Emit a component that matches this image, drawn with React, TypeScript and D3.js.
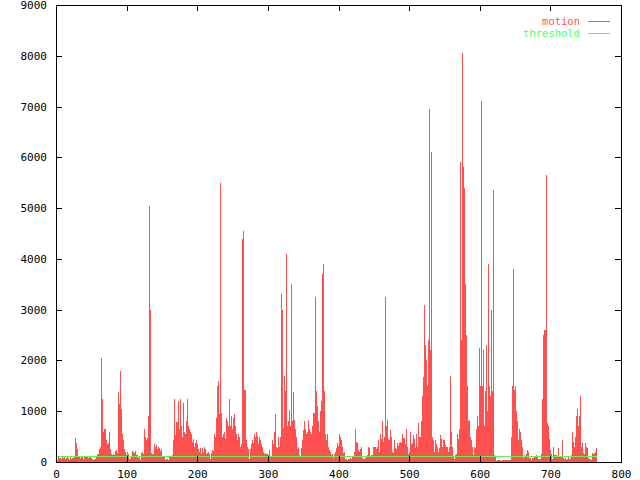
import * as d3 from 'd3';
import React, { useEffect, useRef } from 'react';

// motion value per frame
const motion = [
  60, 80, 40, 90, 50, 70, 30, 80, 60, 90,
  50, 70, 90, 40, 60, 80, 100, 50, 70, 40,
  60, 90, 50, 70, 40, 80, 100, 470, 300, 380,
  250, 120, 90, 100, 80, 60, 90, 110, 70, 50,
  80, 100, 120, 90, 60, 110, 80, 100, 70, 90,
  70, 50, 30, 40, 60, 30, 50, 80, 120, 150,
  150, 260, 240, 300, 420, 2050, 1250, 600, 430, 650,
  650, 430, 400, 350, 370, 300, 600, 250, 130, 150,
  130, 110, 160, 140, 220, 200, 230, 180, 860, 1380,
  1150, 1300, 1800, 1050, 560, 430, 300, 250, 200, 150,
  130, 200, 150, 120, 50, 70, 40, 110, 220, 150,
  200, 180, 220, 160, 130, 140, 120, 70, 110, 30,
  30, 180, 170, 190, 150, 160, 650, 500, 430, 480,
  300, 900, 1050, 5050, 3000, 180, 150, 140, 160, 320,
  350, 300, 280, 340, 260, 300, 250, 280, 220, 260,
  250, 120, 90, 100, 80, 40, 60, 30, 50, 40,
  80, 100, 90, 110, 100, 130, 250, 430, 1250, 540,
  790, 540, 790, 1200, 700, 650, 1250, 700, 550, 500,
  900, 1170, 600, 430, 560, 800, 1250, 700, 550, 650,
  600, 500, 560, 400, 350, 450, 300, 380, 320, 440,
  350, 300, 250, 200, 280, 220, 160, 150, 270, 200,
  300, 250, 130, 150, 120, 180, 200, 150, 50, 60,
  180, 240, 150, 220, 450, 560, 500, 860, 1490, 950,
  1600, 950, 900, 5500, 960, 900, 500, 560, 500, 600,
  450, 500, 860, 800, 700, 1250, 960, 700, 800, 900,
  650, 560, 860, 940, 700, 560, 500, 430, 560, 450,
  500, 300, 250, 350, 4400, 4550, 1500, 1420, 1420, 900,
  430, 300, 200, 250, 50, 60, 250, 350, 430, 300,
  380, 560, 450, 500, 600, 520, 300, 350, 500, 400,
  430, 350, 300, 250, 200, 160, 180, 130, 160, 140,
  150, 130, 240, 200, 120, 120, 110, 430, 350, 300,
  600, 940, 300, 250, 280, 500, 300, 300, 500, 3300,
  3000, 1000, 660, 1100, 1700, 1400, 900, 4100, 700, 800,
  650, 1020, 700, 900, 3500, 800, 1380, 830, 800, 650,
  430, 500, 250, 300, 250, 130, 90, 270, 250, 430,
  630, 500, 800, 650, 560, 430, 600, 830, 700, 650,
  430, 600, 550, 700, 960, 900, 960, 800, 3250, 1400,
  1100, 800, 650, 600, 800, 1000, 1200, 700, 3700, 3900,
  1400, 560, 500, 430, 550, 370, 300, 240, 200, 160,
  130, 150, 60, 70, 160, 150, 200, 270, 220, 370,
  320, 560, 450, 500, 430, 300, 240, 180, 130, 200,
  60, 50, 40, 40, 60, 30, 50, 70, 40, 60,
  110, 100, 120, 200, 650, 400, 300, 370, 150, 240,
  200, 250, 270, 290, 80, 60, 40, 50, 70, 100,
  90, 130, 120, 300, 280, 100, 110, 130, 140, 300,
  280, 300, 270, 300, 260, 300, 430, 350, 200, 180,
  560, 450, 800, 700, 400, 500, 3250, 990, 700, 830,
  600, 450, 430, 350, 630, 500, 200, 160, 180, 430,
  380, 270, 250, 300, 370, 320, 380, 350, 400, 380,
  300, 550, 480, 470, 400, 350, 650, 300, 280, 150,
  130, 200, 600, 300, 350, 370, 530, 450, 160, 270,
  560, 400, 300, 760, 500, 430, 500, 800, 700, 1290,
  700, 1680, 3100, 2300, 1400, 2000, 1500, 2400, 1800, 6950,
  2200, 6100, 830, 500, 430, 300, 200, 220, 430, 350,
  300, 160, 200, 270, 250, 530, 450, 300, 240, 430,
  430, 200, 330, 300, 280, 300, 200, 300, 1700, 430,
  600, 300, 120, 110, 60, 50, 130, 150, 300, 560,
  450, 560, 650, 5900, 2400, 3000, 8050, 5800, 5400, 4000,
  3500, 2500, 1500, 990, 800, 830, 560, 500, 430, 400,
  300, 130, 200, 300, 280, 650, 240, 900, 700, 1000,
  2250, 1500, 7100, 4400, 1490, 2200, 800, 700, 1400, 750,
  2300, 1000, 1200, 3900, 1500, 1300, 3000, 1000, 1400, 5350,
  300, 130, 100, 30, 25, 35, 30, 20, 30, 40,
  30, 25, 35, 30, 20, 30, 35, 25, 30, 40,
  30, 25, 35, 30, 30, 500, 800, 1490, 3800, 1420,
  1500, 1200, 1000, 800, 560, 430, 650, 600, 400, 430,
  300, 130, 70, 90, 130, 120, 160, 240, 240, 200,
  60, 70, 80, 40, 50, 70, 80, 90, 100, 90,
  130, 100, 90, 60, 40, 50, 60, 130, 150, 1250,
  2500, 2600, 2500, 2600, 5650, 2400, 760, 700, 500, 450,
  240, 160, 150, 60, 50, 300, 130, 140, 130, 130,
  120, 270, 110, 120, 110, 110, 120, 430, 60, 70,
  50, 60, 70, 40, 50, 100, 90, 60, 70, 60,
  130, 160, 600, 400, 300, 450, 500, 900, 1050, 630,
  700, 900, 1290, 650, 300, 370, 270, 180, 160, 160,
  370, 300, 270, 60, 70, 60, 40, 50, 40, 50,
  170, 160, 170, 170, 200, 250, 270,
];

const thresholdLevel = 100;

const xTicks = [0, 100, 200, 300, 400, 500, 600, 700, 800];
const yTicks = [0, 1000, 2000, 3000, 4000, 5000, 6000, 7000, 8000, 9000];
const legendLabels = ['motion', 'threshold'];

const W = 640;
const H = 480;
const left = 56;
const right = 621;
const top = 5;
const bottom = 462;
const red = '#ff5050';
const green = '#50ff50';
const font = '"DejaVu Sans Mono", "Liberation Mono", monospace';

const MotionChart = () => {
  const svgRef = useRef(null);

  const renderSvg = () => {
    const svg = d3.select(svgRef.current);
    svg.selectAll('*').remove();

    const xScale = d3.scaleLinear().domain([0, 800]).range([left, right]);
    const yScale = d3.scaleLinear().domain([0, 9000]).range([bottom, top]);

    svg.append('rect').attr('width', W).attr('height', H).attr('fill', '#fff');

    // impulses
    svg
      .append('g')
      .attr('shape-rendering', 'crispEdges')
      .selectAll('line')
      .data(motion)
      .enter()
      .append('line')
      .attr('x1', (d, i) => Math.floor(xScale(i)) + 0.5)
      .attr('x2', (d, i) => Math.floor(xScale(i)) + 0.5)
      .attr('y1', yScale(0))
      .attr('y2', (d) => Math.round(yScale(d)))
      .attr('stroke', red)
      .attr('stroke-width', 1);

    // threshold
    svg
      .append('line')
      .attr('shape-rendering', 'crispEdges')
      .attr('x1', xScale(0))
      .attr('x2', xScale(motion.length - 1))
      .attr('y1', Math.floor(yScale(thresholdLevel)) + 0.5)
      .attr('y2', Math.floor(yScale(thresholdLevel)) + 0.5)
      .attr('stroke', green)
      .attr('stroke-width', 1);

    const styleAxis = (g) => {
      g.select('.domain').remove();
      g.selectAll('line').attr('stroke', '#000').attr('shape-rendering', 'crispEdges');
      g.selectAll('text')
        .attr('fill', '#000')
        .style('font-family', font)
        .style('font-size', '11px');
    };

    svg
      .append('g')
      .attr('transform', 'translate(0,' + bottom + ')')
      .call(
        d3.axisBottom(xScale).tickValues(xTicks).tickSize(-6).tickPadding(8).tickFormat(d3.format('d'))
      )
      .call(styleAxis);
    svg
      .append('g')
      .attr('transform', 'translate(0,' + top + ')')
      .call(d3.axisTop(xScale).tickValues(xTicks).tickSize(-6).tickFormat(() => ''))
      .call(styleAxis);
    svg
      .append('g')
      .attr('transform', 'translate(' + left + ',0)')
      .call(
        d3.axisLeft(yScale).tickValues(yTicks).tickSize(-6).tickPadding(9).tickFormat(d3.format('d'))
      )
      .call(styleAxis);
    svg
      .append('g')
      .attr('transform', 'translate(' + right + ',0)')
      .call(d3.axisRight(yScale).tickValues(yTicks).tickSize(-6).tickFormat(() => ''))
      .call(styleAxis);

    svg
      .append('rect')
      .attr('x', left + 0.5)
      .attr('y', top + 0.5)
      .attr('width', right - left)
      .attr('height', bottom - top)
      .attr('fill', 'none')
      .attr('stroke', '#000')
      .attr('shape-rendering', 'crispEdges');

    // legend
    const legend = svg
      .append('g')
      .selectAll('g')
      .data(legendLabels)
      .enter()
      .append('g')
      .attr('transform', (d, i) => 'translate(0,' + (21.5 + i * 12) + ')');
    legend
      .append('text')
      .attr('x', 580)
      .attr('dy', '0.35em')
      .attr('text-anchor', 'end')
      .attr('fill', (d, i) => (i === 0 ? red : green))
      .style('font-family', font)
      .style('font-size', '10.5px')
      .text((d) => d);
    legend
      .append('line')
      .attr('x1', 588)
      .attr('x2', 610)
      .attr('shape-rendering', 'crispEdges')
      .attr('stroke', (d, i) => (i === 0 ? red : green));
  };

  useEffect(() => {
    renderSvg();
  }, []);

  return (
    <svg
      ref={svgRef}
      width={W}
      height={H}
      style={{ position: 'absolute', left: 0, top: 0, display: 'block' }}
    />
  );
};

export default function App() {
  return <MotionChart />;
}
